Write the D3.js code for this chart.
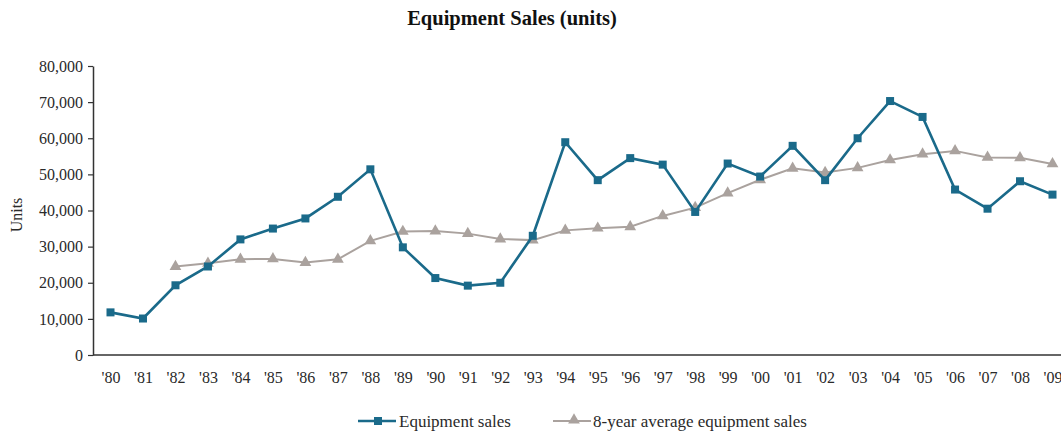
<!DOCTYPE html>
<html><head><meta charset="utf-8">
<script src="https://cdn.jsdelivr.net/npm/d3@7"></script>
<style>body{margin:0;background:#fff}svg{display:block}</style>
</head><body><div id="chart"></div>
<script>
const years = ["'80","'81","'82","'83","'84","'85","'86","'87","'88","'89","'90","'91","'92","'93","'94","'95","'96","'97","'98","'99","'00","'01","'02","'03","'04","'05","'06","'07","'08","'09"];
const equipmentSales = [11800,10100,19300,24500,32000,35000,37800,43800,51400,29800,21300,19200,20000,33000,58900,48400,54500,52700,39600,53000,49400,57900,48400,60000,70300,65900,45800,40500,48100,44400];
const avgSales = [null,null,24500,25400,26500,26600,25600,26500,31600,34200,34300,33600,32100,31800,34500,35100,35500,38500,40800,44800,48500,51700,50500,51800,54000,55600,56500,54700,54600,52900];
const yTicks = [0,10000,20000,30000,40000,50000,60000,70000,80000];

const W = 1061, H = 432;
const svg = d3.select("#chart").append("svg").attr("width", W).attr("height", H)
  .style("font-family", "'Liberation Serif', 'Times New Roman', serif");

const x = d3.scalePoint().domain(years).range([110.5, 1052.5]);
const y = d3.scaleLinear().domain([0, 80000]).range([355, 66]);
const axisColor = "#333";
const txt = "#2a2a2a";
const blue = "#1a6a8a", gray = "#aaa29e";

svg.append("text").attr("x", 512).attr("y", 25).attr("text-anchor", "middle")
  .style("font-weight", "bold").style("font-size", "20.5px").attr("fill", "#111")
  .text("Equipment Sales (units)");

const yAxis = svg.append("g").attr("transform", "translate(93,0)")
  .call(d3.axisLeft(y).tickValues(yTicks).tickFormat(d3.format(",")).tickSize(5).tickSizeOuter(0));
yAxis.select(".domain").attr("stroke", axisColor).attr("stroke-width", 1.5);
yAxis.selectAll(".tick line").attr("stroke", axisColor).attr("stroke-width", 1.2);
yAxis.selectAll(".tick text").attr("fill", txt).style("font-size", "16px")
  .style("font-family", "'Liberation Serif', serif").attr("x", -10);

const xAxis = svg.append("g").attr("transform", "translate(0,355)")
  .call(d3.axisBottom(x).tickSize(0).tickSizeOuter(0));
xAxis.select(".domain").attr("d", `M93,0H${W}`).attr("stroke", axisColor).attr("stroke-width", 1.5);
xAxis.selectAll(".tick text").attr("fill", txt).style("font-size", "16px")
  .style("font-family", "'Liberation Serif', serif").attr("dy", "0").attr("y", 28);

svg.append("text").attr("transform", "translate(22,215) rotate(-90)").attr("text-anchor", "middle")
  .style("font-size", "16px").attr("fill", txt).text("Units");

const line = d3.line().defined(d => d[1] != null).x(d => x(d[0])).y(d => y(d[1]));

const avgData = years.map((yr, i) => [yr, avgSales[i]]);
const eqData = years.map((yr, i) => [yr, equipmentSales[i]]);

svg.append("path").datum(avgData).attr("d", line).attr("fill", "none").attr("stroke", gray).attr("stroke-width", 2);
const tri = d3.symbol().type(d3.symbolTriangle).size(60);
svg.selectAll(".tri").data(avgData.filter(d => d[1] != null)).join("path")
  .attr("transform", d => `translate(${x(d[0])},${y(d[1])})`).attr("d", tri).attr("fill", gray);

svg.append("path").datum(eqData).attr("d", line).attr("fill", "none").attr("stroke", blue).attr("stroke-width", 2.6);
svg.selectAll(".sq").data(eqData).join("rect")
  .attr("x", d => x(d[0]) - 4).attr("y", d => y(d[1]) - 4).attr("width", 8).attr("height", 8).attr("fill", blue);

// legend
const lg = svg.append("g");
lg.append("line").attr("x1", 358).attr("x2", 396).attr("y1", 421).attr("y2", 421).attr("stroke", blue).attr("stroke-width", 2.6);
lg.append("rect").attr("x", 374).attr("y", 417).attr("width", 8).attr("height", 8).attr("fill", blue);
lg.append("text").attr("x", 399).attr("y", 427).style("font-size", "17px").attr("fill", txt).text("Equipment sales");
lg.append("line").attr("x1", 553).attr("x2", 591).attr("y1", 421).attr("y2", 421).attr("stroke", gray).attr("stroke-width", 2);
lg.append("path").attr("transform", "translate(574,420)").attr("d", tri).attr("fill", gray);
lg.append("text").attr("x", 593).attr("y", 427).style("font-size", "17px").attr("fill", txt).text("8-year average equipment sales");
</script></body></html>
